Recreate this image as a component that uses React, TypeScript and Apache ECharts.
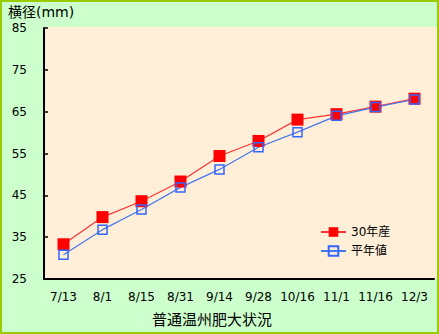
import React, { useEffect, useRef } from "react";
import * as echarts from "echarts";

const categories = ["7/13", "8/1", "8/15", "8/31", "9/14", "9/28", "10/16", "11/1", "11/16", "12/3"];
const series2018 = [33.3, 39.8, 43.6, 48.3, 54.4, 58.0, 63.1, 64.4, 66.2, 68.1];
const seriesNormal = [30.8, 36.8, 41.6, 46.9, 51.2, 56.5, 60.1, 64.0, 66.1, 67.9];
const yTicks = { min: 25, max: 85, interval: 10 };

const FONT = "'DejaVu Sans', 'Noto Sans CJK JP', sans-serif";

export default function App() {
  const ref = useRef<HTMLDivElement>(null);
  useEffect(() => {
    if (!ref.current) return;
    const chart = echarts.init(ref.current, undefined, { renderer: "svg" });
    chart.setOption({
      animation: false,
      backgroundColor: "#CCFFCC",
      textStyle: { fontFamily: FONT },
      grid: { left: 44, right: 5, top: 28, bottom: 55, containLabel: false },
      graphic: [
        {
          type: "rect",
          z: -20,
          silent: true,
          shape: { x: 1, y: 1, width: 437, height: 332 },
          style: { fill: "#CCFFCC", stroke: "#99CC00", lineWidth: 2 },
        },
        {
          type: "rect",
          z: -10,
          silent: true,
          shape: { x: 44, y: 27, width: 393, height: 252 },
          style: { fill: "#FFEFD8" },
        },
        {
          type: "text",
          x: 8,
          y: 5,
          style: { text: "横径(mm)", font: `14px ${FONT}`, fill: "#000" },
        },
        {
          type: "text",
          x: 212,
          y: 320,
          style: {
            text: "普通温州肥大状況",
            font: `15px ${FONT}`,
            fill: "#000",
            align: "center",
            verticalAlign: "middle",
          },
        },
      ],
      legend: {
        orient: "vertical",
        left: 315,
        top: 221,
        itemWidth: 25,
        itemHeight: 12,
        itemGap: 7,
        textStyle: { fontSize: 12, color: "#000", fontFamily: FONT },
        data: ["30年産", "平年値"],
      },
      xAxis: {
        type: "category",
        data: categories,
        boundaryGap: true,
        axisLine: { lineStyle: { color: "#000", width: 2 } },
        axisTick: { inside: true, length: 4, lineStyle: { color: "#000", width: 1.5 } },
        axisLabel: { color: "#000", fontSize: 12, margin: 12, fontFamily: FONT, interval: 0 },
        splitLine: { show: false },
      },
      yAxis: {
        type: "value",
        min: yTicks.min,
        max: yTicks.max,
        interval: yTicks.interval,
        axisLine: { show: true, lineStyle: { color: "#000", width: 2 } },
        axisTick: { show: true, inside: true, length: 4, lineStyle: { color: "#000", width: 1.5 } },
        axisLabel: { color: "#000", fontSize: 12, margin: 17, fontFamily: FONT },
        splitLine: { show: false },
      },
      series: [
        {
          name: "30年産",
          type: "line",
          data: series2018,
          symbol: "rect",
          symbolSize: 12,
          itemStyle: { color: "#FF0000" },
          lineStyle: { color: "#FF3333", width: 1.2 },
        },
        {
          name: "平年値",
          type: "line",
          data: seriesNormal,
          symbol: "rect",
          symbolSize: 9,
          itemStyle: { color: "rgba(0,0,0,0)", borderColor: "#3366FF", borderWidth: 1.5 },
          lineStyle: { color: "#4477EE", width: 1.2 },
        },
      ],
    });
    return () => chart.dispose();
  }, []);
  return (
    <div
      ref={ref}
      style={{ position: "absolute", left: 0, top: 0, width: 439, height: 334 }}
    />
  );
}
